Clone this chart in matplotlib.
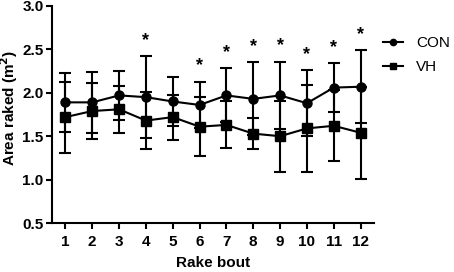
import matplotlib
matplotlib.use("Agg")
import matplotlib.pyplot as plt
from matplotlib.lines import Line2D
import numpy as np

plt.rcParams['font.family'] = ['Liberation Sans', 'DejaVu Sans']

bouts = np.arange(1, 13)
con_mean = [1.89, 1.89, 1.97, 1.95, 1.90, 1.86, 1.97, 1.93, 1.97, 1.88, 2.06, 2.07]
con_sd = [0.34, 0.35, 0.28, 0.47, 0.28, 0.27, 0.31, 0.42, 0.39, 0.38, 0.28, 0.42]
vh_mean = [1.72, 1.79, 1.81, 1.68, 1.72, 1.61, 1.63, 1.53, 1.50, 1.59, 1.62, 1.54]
vh_sd = [0.41, 0.32, 0.27, 0.33, 0.26, 0.34, 0.27, 0.18, 0.41, 0.50, 0.41, 0.53]
sig_bouts = [4, 6, 7, 8, 9, 10, 11, 12]

fig = plt.figure(figsize=(4.54, 2.72), dpi=100)
ax = fig.add_axes([0.1145, 0.18, 0.7093, 0.798])

ax.errorbar(bouts, con_mean, yerr=con_sd, color="black", marker="o", markersize=6.5,
            lw=1.5, elinewidth=1.5, capsize=4, capthick=1.5)
ax.errorbar(bouts, vh_mean, yerr=vh_sd, color="black", marker="s", markersize=6.5,
            lw=1.5, elinewidth=1.5, capsize=4, capthick=1.5)

# stjärnor ovanför den högsta felstapeln
for b in sig_bouts:
    i = b - 1
    top = max(con_mean[i] + con_sd[i], vh_mean[i] + vh_sd[i])
    ax.text(b, top + 0.18, "*", ha="center", va="center", fontsize=13, fontweight="bold")

ax.set_xlim(0.5, 12.5)
ax.set_ylim(0.5, 3.0)
ax.set_xticks(bouts)
yt = np.arange(0.5, 3.01, 0.5)
ax.set_yticks(yt)
ax.set_yticklabels([f"{v:.1f}" for v in yt])
for lab in ax.get_xticklabels() + ax.get_yticklabels():
    lab.set_fontweight("bold")
ax.tick_params(labelsize=11, width=1.5, length=4.5, direction="out")
ax.tick_params(axis="y", pad=1.5)
ax.tick_params(axis="x", pad=4)
ax.spines["top"].set_visible(False)
ax.spines["right"].set_visible(False)
ax.spines["left"].set_linewidth(1.5)
ax.spines["bottom"].set_linewidth(1.5)

ax.set_xlabel("Rake bout", fontsize=11, fontweight="bold")
ax.set_ylabel("Area raked (m$\\mathbf{^2}$)", fontsize=11, fontweight="bold")
ax.xaxis.set_label_coords(0.5, -0.15)
ax.yaxis.set_label_coords(-0.098, 0.53)

handles = [Line2D([], [], color="black", marker="o", markersize=4.5, lw=1.5),
           Line2D([], [], color="black", marker="s", markersize=4.5, lw=1.5)]
ax.legend(handles, ["CON", "VH"], loc="upper left", bbox_to_anchor=(1.01, 0.89),
          frameon=False, fontsize=11, handlelength=1.3, handletextpad=0.85,
          labelspacing=0.65, borderaxespad=0)

fig.savefig("out.png", dpi=100)
